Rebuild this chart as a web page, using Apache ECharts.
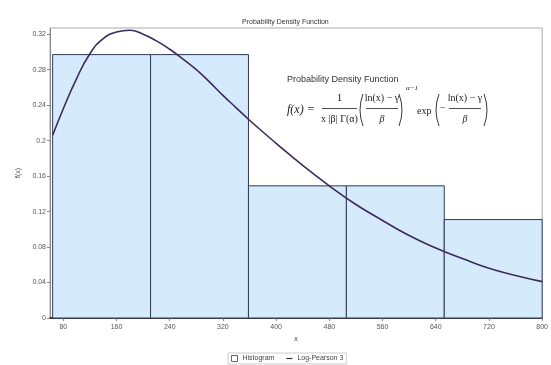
<!DOCTYPE html>
<html>
<head>
<meta charset="utf-8">
<script src="https://cdn.jsdelivr.net/npm/echarts@6/dist/echarts.min.js"></script>
<style>
  html, body { margin: 0; padding: 0; background: #fff; }
  #chart { width: 551px; height: 365px; }
</style>
</head>
<body>
<div id="chart"></div>
<script>
// histogram bins (edges) and their heights
var binEdges = [64, 211.2, 358.4, 505.6, 652.8, 800];
var binHeights = [0.297, 0.297, 0.149, 0.149, 0.111];

// fitted Log-Pearson 3 curve
var curveX = [64, 80, 100, 120, 140, 160, 180, 200, 220, 240, 260, 280, 300, 320, 340, 360,
              400, 440, 480, 520, 560, 600, 640, 680, 720, 760, 800];
var curveY = [0.206, 0.236, 0.270, 0.298, 0.315, 0.3225, 0.3245, 0.320, 0.3125, 0.303, 0.292, 0.280,
              0.266, 0.251, 0.237, 0.223, 0.197, 0.172, 0.149, 0.128, 0.110, 0.093, 0.079,
              0.067, 0.056, 0.048, 0.041];

var xTicks = [80, 160, 240, 320, 400, 480, 560, 640, 720, 800];
var yTicks = [0, 0.04, 0.08, 0.12, 0.16, 0.2, 0.24, 0.28, 0.32];

var histData = [];
for (var i = 0; i < binHeights.length; i++) {
	histData.push([binEdges[i], binEdges[i + 1], binHeights[i]]);
}
var curveData = [];
for (var j = 0; j < curveX.length; j++) {
	curveData.push([curveX[j], curveY[j]]);
}

var serif = '"Liberation Serif", "DejaVu Serif", serif';
var ink = '#222';

function txt(x, y, s, size, align, extra) {
	return {
		type: 'text', x: x, y: y, z: 10,
		style: {
			text: s,
			font: (extra || '') + ' ' + size + 'px ' + serif,
			fill: ink,
			align: align || 'left',
			verticalAlign: 'middle'
		}
	};
}
function bar(x1, x2, y) {
	return { type: 'line', z: 10, shape: { x1: x1, y1: y, x2: x2, y2: y }, style: { stroke: ink, lineWidth: 0.8 } };
}
// big bracket: dir 1 = '(' , -1 = ')'
function paren(x, dir) {
	return {
		type: 'bezierCurve', z: 10,
		shape: { x1: x + 3 * dir, y1: 94, x2: x + 3 * dir, y2: 126, cpx1: x - 3 * dir, cpy1: 110 },
		style: { stroke: ink, lineWidth: 0.9, fill: null }
	};
}

var chart = echarts.init(document.getElementById('chart'));
var option = {
	animation: false,
	title: {
		text: 'Probability Density Function',
		left: 237,
		top: 14,
		textStyle: { fontSize: 7, fontWeight: 'normal', color: '#333', fontFamily: 'Liberation Sans' }
	},
	legend: {
		bottom: 1,
		left: 228,
		itemWidth: 6,
		itemHeight: 6,
		itemGap: 12,
		borderColor: '#ccc',
		borderWidth: 1,
		padding: [2, 3],
		textStyle: { fontSize: 7, color: '#444', fontFamily: 'Liberation Sans' },
		data: [
			{ name: 'Histogram', icon: 'rect', itemStyle: { color: '#fff', borderColor: '#666', borderWidth: 1 } },
			{ name: 'Log-Pearson 3', icon: 'path://M0,4L10,4L10,6L0,6Z', itemStyle: { color: '#3d2a5c' } }
		]
	},
	grid: {
		left: 50,
		right: 3,
		top: 28,
		bottom: 47,
		show: true,
		borderColor: '#aaa',
		borderWidth: 1
	},
	xAxis: {
		type: 'value',
		min: 60,
		max: 800,
		name: 'x',
		nameLocation: 'middle',
		nameGap: 16,
		nameTextStyle: { fontSize: 7, color: '#444' },
		axisLine: { lineStyle: { color: '#111', width: 1.5 } },
		axisTick: { show: true, length: 3, customValues: xTicks, lineStyle: { color: '#888' } },
		axisLabel: { fontSize: 7, color: '#555', margin: 6, customValues: xTicks },
		splitLine: { show: false }
	},
	yAxis: {
		type: 'value',
		min: 0,
		max: 0.327,
		name: 'f(x)',
		nameLocation: 'middle',
		nameGap: 26,
		nameTextStyle: { fontSize: 7, color: '#444' },
		axisLine: { show: true, lineStyle: { color: '#888', width: 1 } },
		axisTick: { show: true, length: 3, customValues: yTicks, lineStyle: { color: '#888' } },
		axisLabel: { fontSize: 7, color: '#555', margin: 4, customValues: yTicks },
		splitLine: { show: false }
	},
	series: [
		{
			name: 'Histogram',
			type: 'custom',
			renderItem: function (params, api) {
				var p0 = api.coord([api.value(0), api.value(2)]);
				var p1 = api.coord([api.value(1), 0]);
				return {
					type: 'rect',
					shape: { x: p0[0], y: p0[1], width: p1[0] - p0[0], height: p1[1] - p0[1] },
					style: { fill: '#d5ebfc', stroke: '#2e3a58', lineWidth: 1 }
				};
			},
			encode: { x: [0, 1], y: 2 },
			itemStyle: { color: '#fff', borderColor: '#666' },
			data: histData
		},
		{
			name: 'Log-Pearson 3',
			type: 'line',
			smooth: true,
			showSymbol: false,
			lineStyle: { color: '#3d2a5c', width: 1.6 },
			itemStyle: { color: '#3d2a5c' },
			data: curveData,
			z: 5
		}
	],
	graphic: [
		{ type: 'text', x: 287, y: 80, z: 10,
		  style: { text: 'Probability Density Function', font: '9px "Liberation Sans", sans-serif', fill: '#333', verticalAlign: 'middle' } },
		txt(287, 110, 'f(x) =', 12, 'left', 'italic'),
		txt(339.5, 98, '1', 11, 'center'),
		bar(322, 357, 108.5),
		txt(339.5, 119, 'x |β| Γ(α)', 10, 'center'),
		paren(360, 1),
		txt(382, 98, 'ln(x) − γ', 10, 'center'),
		bar(366, 398, 108.5),
		txt(382, 119, 'β', 10, 'center', 'italic'),
		paren(402, -1),
		txt(406, 88, 'α−1', 7, 'left', 'italic'),
		txt(417, 111, 'exp', 10, 'left'),
		paren(436, 1),
		txt(440, 108, '−', 10, 'left'),
		txt(465, 98, 'ln(x) − γ', 10, 'center'),
		bar(449, 481, 108.5),
		txt(465, 119, 'β', 10, 'center', 'italic'),
		paren(487, -1)
	]
};
chart.setOption(option);
</script>
</body>
</html>
